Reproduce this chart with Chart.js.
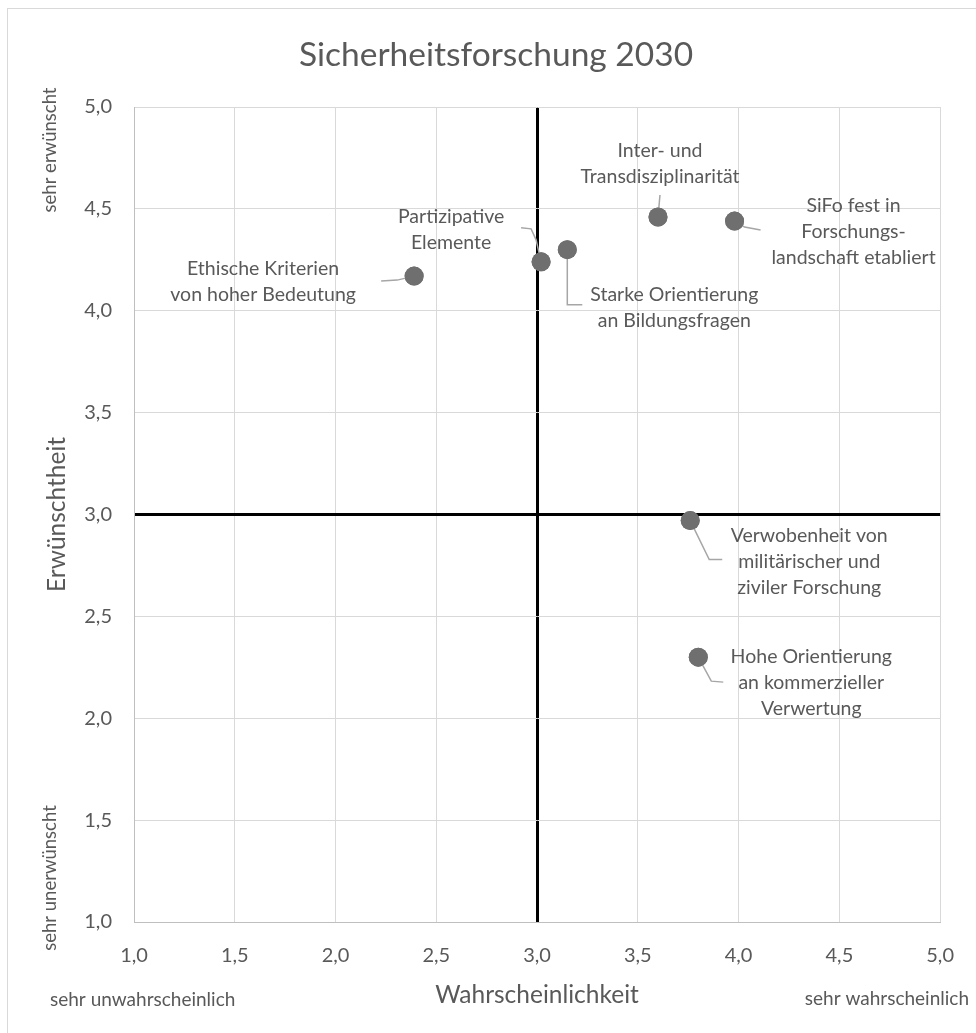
<!DOCTYPE html>
<html lang="de">
<head>
<meta charset="UTF-8">
<title>Sicherheitsforschung 2030</title>
<script src="https://cdn.jsdelivr.net/npm/chart.js@4.4.0/dist/chart.umd.min.js"></script>
<style>
  body { margin: 0; background: #fff; }
  .wrap { width: 976px; height: 1033px; position: relative; }
</style>
</head>
<body>
<div class="wrap"><canvas id="grafico"></canvas></div>
<script>
// Daten
const thesen = [
  ['Ethische Kriterien', 'von hoher Bedeutung'],
  ['Partizipative', 'Elemente'],
  ['Starke Orientierung', 'an Bildungsfragen'],
  ['Inter- und', 'Transdisziplinarität'],
  ['SiFo fest in', 'Forschungs-', 'landschaft etabliert'],
  ['Verwobenheit von', 'militärischer und', 'ziviler Forschung'],
  ['Hohe Orientierung', 'an kommerzieller', 'Verwertung']
];
const wahrscheinlichkeit = [2.39, 3.02, 3.15, 3.60, 3.98, 3.76, 3.80];
const erwuenschtheit    = [4.17, 4.24, 4.30, 4.46, 4.44, 2.97, 2.30];
const achsenTicks = [1.0, 1.5, 2.0, 2.5, 3.0, 3.5, 4.0, 4.5, 5.0];

// Lage der Beschriftungen (Pixel relativ zum Punkt) und Führungslinien
const beschriftung = [
  { dx: -151, dy: 6,   linie: [[-17, 4], [-33, 5]] },
  { dx: -90,  dy: -32, linie: [[-5, -22], [-10, -33], [-20, -34]] },
  { dx: 107,  dy: 58,  linie: [[0, 55], [15, 55]] },
  { dx: 2,    dy: -53, linie: [[2, -22]] },
  { dx: 119,  dy: 11,  linie: [[10, 6], [26, 9]] },
  { dx: 119,  dy: 41,  linie: [[19, 39], [32, 39]] },
  { dx: 113,  dy: 26,  linie: [[13, 24], [25, 25]] }
];

const schrift = 'Lato, "Open Sans", sans-serif';
const grau = '#595959';
const komma = v => v.toFixed(1).replace('.', ',');

const punkte = wahrscheinlichkeit.map((x, i) => ({ x: x, y: erwuenschtheit[i] }));

const texte = {
  id: 'texte',
  beforeDraw(chart) {
    const ctx = chart.ctx;
    ctx.save();
    ctx.strokeStyle = '#d9d9d9';
    ctx.lineWidth = 1;
    ctx.strokeRect(7.5, 8.5, 1000, 1100);
    ctx.restore();
  },
  afterDatasetsDraw(chart) {
    const ctx = chart.ctx;
    const meta = chart.getDatasetMeta(0);
    ctx.save();
    // Führungslinien
    ctx.strokeStyle = '#a6a6a6';
    ctx.lineWidth = 1.5;
    meta.data.forEach((el, i) => {
      const b = beschriftung[i];
      ctx.beginPath();
      ctx.moveTo(el.x, el.y);
      b.linie.forEach(p => ctx.lineTo(el.x + p[0], el.y + p[1]));
      ctx.stroke();
    });
    // Punkte noch einmal darüber
    ctx.fillStyle = '#6f6f6f';
    meta.data.forEach(el => {
      ctx.beginPath();
      ctx.arc(el.x, el.y, 9.5, 0, Math.PI * 2);
      ctx.fill();
    });
    // Beschriftungen
    ctx.fillStyle = grau;
    ctx.font = '19.5px ' + schrift;
    ctx.textAlign = 'center';
    ctx.textBaseline = 'middle';
    meta.data.forEach((el, i) => {
      const b = beschriftung[i];
      const zeilen = thesen[i];
      const h = 26;
      zeilen.forEach((z, k) => {
        ctx.fillText(z, el.x + b.dx, el.y + b.dy + (k - (zeilen.length - 1) / 2) * h);
      });
    });
    ctx.restore();
  },
  afterDraw(chart) {
    const ctx = chart.ctx;
    ctx.save();
    ctx.fillStyle = grau;
    ctx.textBaseline = 'middle';
    ctx.textAlign = 'center';
    ctx.font = '33.5px ' + schrift;
    ctx.fillText('Sicherheitsforschung 2030', 496, 55);

    ctx.font = '19px ' + schrift;
    ctx.textAlign = 'left';
    ctx.fillText('sehr unwahrscheinlich', 50, 1000);
    ctx.textAlign = 'right';
    ctx.fillText('sehr wahrscheinlich', 969, 999);

    ctx.font = '18.5px ' + schrift;
    ctx.textAlign = 'center';
    ctx.translate(50, 150);
    ctx.rotate(-Math.PI / 2);
    ctx.fillText('sehr erwünscht', 0, 0);
    ctx.rotate(Math.PI / 2);
    ctx.translate(0, 728);
    ctx.rotate(-Math.PI / 2);
    ctx.fillText('sehr unerwünscht', 0, 0);
    ctx.restore();
  }
};

const linienFarbe = c => c.tick && c.tick.value === 3 ? '#000000' : '#d9d9d9';
const linienBreite = c => c.tick && c.tick.value === 3 ? 3 : 1;

new Chart(document.getElementById('grafico'), {
  type: 'scatter',
  data: {
    datasets: [{
      data: punkte,
      pointRadius: 9.5,
      pointHoverRadius: 9.5,
      backgroundColor: '#6f6f6f',
      borderWidth: 0
    }]
  },
  options: {
    responsive: true,
    maintainAspectRatio: false,
    animation: false,
    layout: { padding: { top: 107, right: 34, bottom: 0, left: 0 } },
    plugins: {
      legend: { display: false },
      tooltip: { enabled: false }
    },
    scales: {
      x: {
        type: 'linear',
        min: 1, max: 5,
        afterBuildTicks: s => { s.ticks = achsenTicks.map(v => ({ value: v })); },
        afterFit: s => { s.height = 111; },
        grid: { color: linienFarbe, lineWidth: linienBreite, drawTicks: false },
        border: { color: '#bfbfbf' },
        ticks: {
          padding: 22,
          color: grau,
          font: { family: schrift, size: 20 },
          callback: v => komma(v)
        },
        title: {
          display: true,
          text: 'Wahrscheinlichkeit',
          color: grau,
          font: { family: schrift, size: 24.5 },
          padding: { top: 0, bottom: 23 }
        }
      },
      y: {
        type: 'linear',
        min: 1, max: 5,
        afterBuildTicks: s => { s.ticks = achsenTicks.map(v => ({ value: v })); },
        afterFit: s => { s.width = 134; },
        grid: { color: linienFarbe, lineWidth: linienBreite, drawTicks: false },
        border: { color: '#bfbfbf' },
        ticks: {
          padding: 22,
          color: grau,
          font: { family: schrift, size: 20 },
          callback: v => komma(v)
        },
        title: {
          display: true,
          text: 'Erwünschtheit',
          color: grau,
          font: { family: schrift, size: 24.5 },
          padding: { top: 42, bottom: 0 }
        }
      }
    }
  },
  plugins: [texte]
});
</script>
</body>
</html>
